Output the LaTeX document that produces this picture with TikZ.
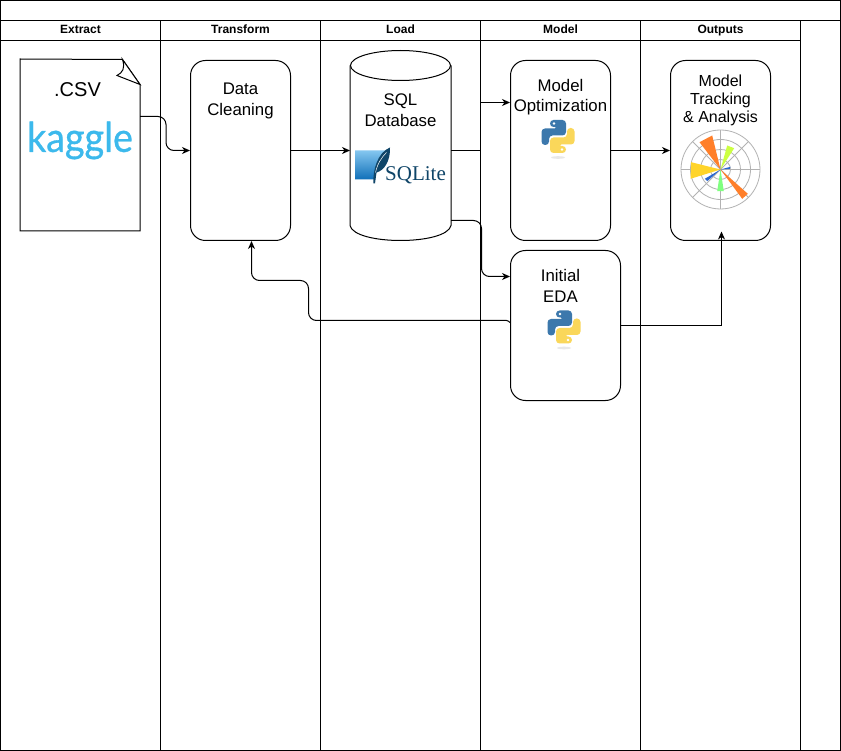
\documentclass[tikz,border=0pt]{standalone}
\usepackage{fontspec}
\setmainfont{Liberation Sans}
\newfontfamily\kagglefont[FakeBold=0.8]{Lato}
\newfontfamily\sqlitefont{Liberation Serif}
\usepackage{xcolor}
\usepackage{graphicx}
\usetikzlibrary{arrows.meta}
\definecolor{kaggleblue}{HTML}{3CB9EC}
\definecolor{pyblue}{HTML}{3C78AC}
\definecolor{pyyellow}{HTML}{FAD75A}
\definecolor{sqlink}{HTML}{0F4568}
\definecolor{sqltop}{HTML}{84C6F0}
\definecolor{sqlbottom}{HTML}{1070B8}
\definecolor{plotorange}{HTML}{FF7F2A}
\definecolor{plotyellow}{HTML}{FFD42A}
\definecolor{plotlime}{HTML}{CCFF42}
\definecolor{plotgreen}{HTML}{80FF80}
\definecolor{plotblue}{HTML}{2A66D0}
\tikzset{
    lanehead/.style={draw=black, minimum width=160pt, minimum height=20pt, inner sep=0pt, text height=9pt, text depth=2.5pt, font=\fontsize{12}{14}\selectfont\bfseries},
    lanebody/.style={draw=black, minimum width=160pt, minimum height=710pt, inner sep=0pt},
    stepbox/.style={draw=black, fill=white, rounded corners=15pt, inner sep=0pt},
    steptext/.style={align=center, inner sep=0pt, font=\fontsize{16.8}{20.5}\selectfont},
    flow/.style={-{Stealth[length=8pt, width=7pt, inset=2.5pt]}, rounded corners=8pt},
    pylogo/.pic={
        \fill[gray!18] (0,21) ellipse[x radius=7, y radius=1.3];
        \fill[pyblue, rounded corners=3.5pt] (-8,-9.5) -- (-8,-16.5) -- (8,-16.5) -- (8,-1) -- (-9,-1) -- (-9,8.5) -- (-16.5,8.5) -- (-16.5,-8) -- (0,-8) -- (0,-9.5) -- cycle;
        \fill[pyyellow, rounded corners=3.5pt] (8,9.5) -- (8,16.5) -- (-8,16.5) -- (-8,1) -- (9,1) -- (9,-8.5) -- (16.5,-8.5) -- (16.5,8) -- (0,8) -- (0,9.5) -- cycle;
        \fill[white] (-4,-13) circle[radius=1.4];
        \fill[white] (4,13) circle[radius=1.4];
    }
}

\begin{document}
\begin{tikzpicture}[x=1pt, y=-1pt, shift={(0.5,0.5)}, line width=1pt, >=Stealth]
        \useasboundingbox (-0.5,-0.5) rectangle (840.5,750.5);

        % frame and lanes
        \node[draw=black, minimum width=840pt, minimum height=750pt, inner sep=0pt] (frame) at (420,375) {};
        \node[draw=black, minimum width=840pt, minimum height=20pt, inner sep=0pt] (title) at (420,10) {};
        \foreach \x/\name/\txt in {80/extract/Extract, 240/transform/Transform, 400/load/Load, 560/model/Model, 720/outputs/Outputs} {
            \node[lanehead] (\name) at (\x,30) {\txt};
            \node[lanebody] (\name body) at (\x,395) {};
        }

        % steps
        \node[minimum width=119pt, minimum height=171pt, inner sep=0pt] (csv) at (79.5,144.5) {};
        \node[stepbox, minimum width=100pt, minimum height=180pt] (clean) at (240,150) {};
        \node[minimum width=100pt, minimum height=190pt, inner sep=0pt] (db) at (400,145) {};
        \node[stepbox, minimum width=100pt, minimum height=180pt] (opt) at (560,150) {};
        \node[stepbox, minimum width=110pt, minimum height=150pt] (eda) at (565,325) {};
        \node[stepbox, minimum width=100pt, minimum height=180pt] (track) at (720,150) {};

        % database drum
        \draw[fill=white] (db.west |- 0,65) -- (db.west |- 0,225) .. controls (354,245) and (446,245) .. (db.east |- 0,225) -- (db.east |- 0,65);
        \draw[fill=white] (400,65) ellipse[x radius=50, y radius=15];

        % csv page with its folded corner
        \draw[fill=white] (csv.north west) -- (122,59) -- (csv.east |- 0,84) -- (csv.south east) -- (csv.south west) -- cycle;
        \draw[fill=white] (122,59) .. controls (125,68) and (122,72) .. (116.5,75) -- (csv.east |- 0,84) -- cycle;

        % texts
        \node[steptext, font=\fontsize{20}{24}\selectfont] (csvtxt) at (77,89) {.CSV};
        \node[inner sep=0pt, text=kaggleblue, font=\kagglefont\fontsize{41}{48}\selectfont] (kaggle) at (79.5,140) {\scalebox{0.92}[1]{kaggle}};
        \node[steptext] (cleantxt) at (240,100.5) {Data\\Cleaning};
        \node[steptext] (dbtxt) at (400,109.5) {SQL\\Database};
        \node[steptext] (opttxt) at (560,96.5) {Model\\Optimization};
        \node[steptext] (edatxt) at (560,285.5) {Initial\\EDA};
        \node[steptext, font=\fontsize{16}{18}\selectfont] (tracktxt) at (720,99.5) {Model\\Tracking\\\& Analysis};

        % python logos
        \pic at (557.5,136) {pylogo};
        \pic at (563.5,326.5) {pylogo};

        % sqlite logo
        \shade[top color=sqltop, bottom color=sqlbottom] (354.7,150) -- (385,150) -- (373,179) -- (354.7,179) -- cycle;
        \fill[sqlink] (373,183) .. controls (372,170) and (377,152) .. (389.5,147) .. controls (390,160) and (384,170) .. (376,172) -- (374.5,183) -- cycle;
        \draw[white, line width=0.5pt] (375,172) .. controls (377,163) and (381,157) .. (386,152);
        \node[inner sep=0pt, text=sqlink, font=\sqlitefont\fontsize{21}{24}\selectfont] (sqlite) at (415,175) {SQLite};

        % polar plot
        \begin{scope}[shift={(720,169)}]
            \foreach \r in {10,20,30,39.5}
                \draw[gray!60, line width=0.8pt] (0,0) circle[radius=\r];
            \foreach \t in {0,45,...,315}
                \draw[gray!60, line width=0.8pt] (0,0) -- (\t:39.5);
            \foreach \c/\ax/\ay/\bx/\by in {plotorange/-21/-27.3/-8.3/-34, plotlime/6.7/-24/13.7/-21.3, plotblue/10/-2.7/9.3/-0.7, plotyellow/-29.3/-7.3/-30/9.3, plotblue/-15.7/9.3/-13.3/11.7, plotgreen/-3.3/21.7/3.3/21.7, plotorange/21.7/29.3/27.3/24.3}
                \fill[\c] (0,0) -- (\ax,\ay) -- (\bx,\by) -- cycle;
        \end{scope}

        % connectors
        \draw[flow] ([yshift=28.5pt]csv.east) -- (165.5,116) -- (165.5,150) -- (clean.west);
        \draw[flow] (clean.east) -- (db.west |- 0,150);
        \draw[flow, sharp corners] (db.east |- 0,150) -- (480,150) -- (480,102) -- (opt.west |- 0,102);
        \draw[flow] (opt.east) -- (track.west);
        \draw[flow] (db.east |- 0,220) -- (481,220) -- (481,276) -- (eda.west |- 0,276);
        \draw[flow] (eda.west |- 0,322) [rounded corners=1pt] -- (507,320) [rounded corners=8pt] -- (308,320) -- (308,280) -- (251,280) -- (clean.south -| 251,0);
        \draw[flow, sharp corners] (eda.east) -- (721,325) -- (721,231);

\end{tikzpicture}
\end{document}
